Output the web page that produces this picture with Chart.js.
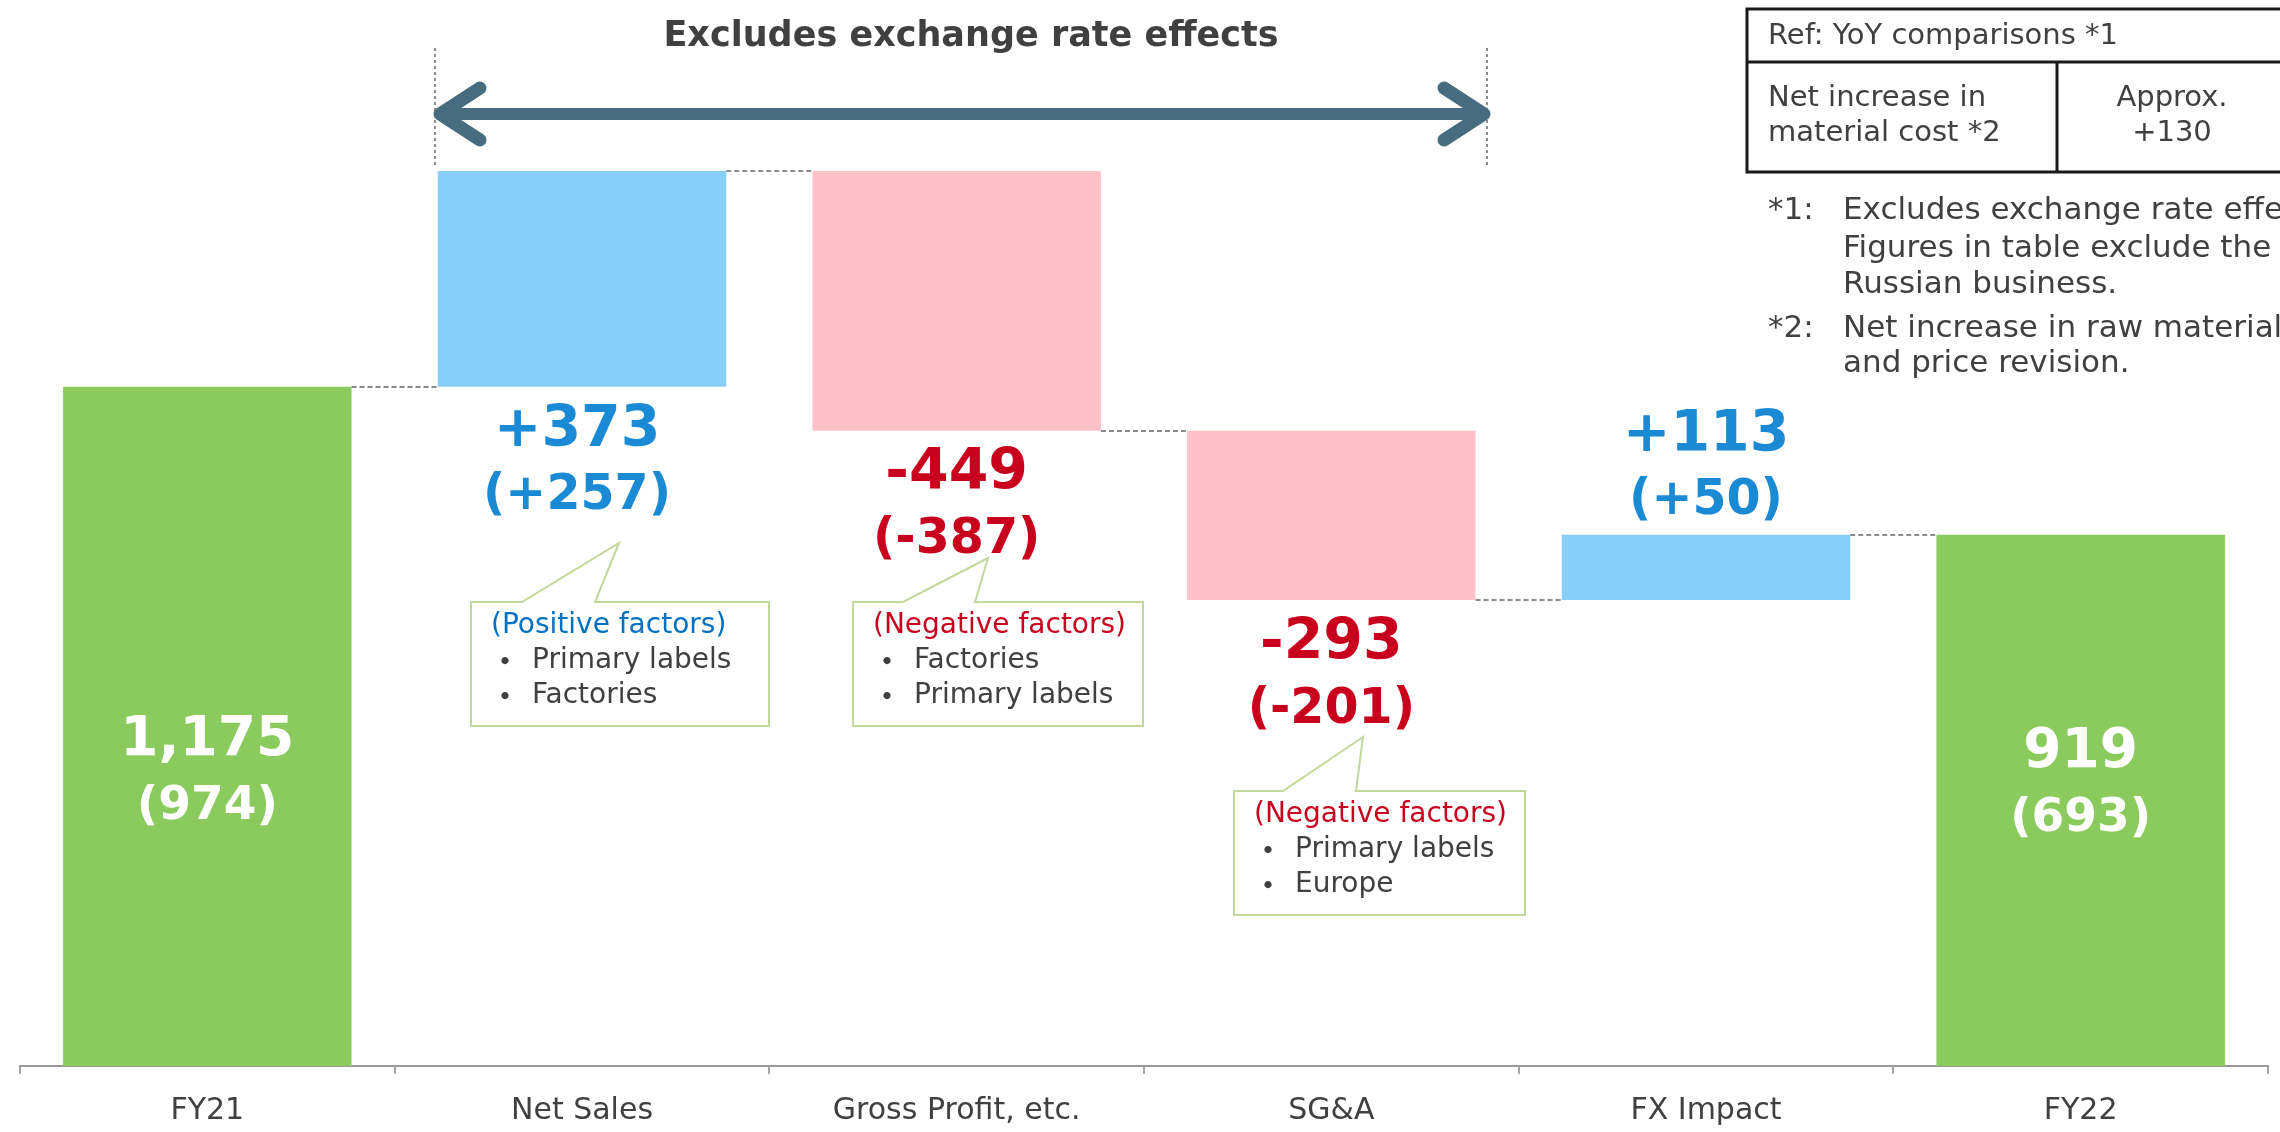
<!DOCTYPE html>
<html>
<head>
<meta charset="utf-8">
<script src="https://cdn.jsdelivr.net/npm/chart.js@4/dist/chart.umd.min.js"></script>
<style>
  html, body { margin: 0; padding: 0; background: #fff; }
  canvas { display: block; }
</style>
</head>
<body>
<canvas id="bridge" width="2280" height="1132"></canvas>
<script>
// operating income bridge, FY21 -> FY22
const categories = ["FY21", "Net Sales", "Gross Profit, etc.", "SG&A", "FX Impact", "FY22"];
const changes = [1175, 373, -449, -293, 113, 919];
const changesExFx = [974, 257, -387, -201, 50, 693]; // figures in brackets
const isTotal = [true, false, false, false, false, true];

const tableRows = [["Net increase in", "material cost *2"], ["Approx.", "+130"]];
const notes = [
  ["*1:", "Excludes exchange rate effects."],
  ["", "Figures in table exclude the"],
  ["", "Russian business."],
  ["*2:", "Net increase in raw material costs"],
  ["", "and price revision."]
];
const callouts = [
  { head: "(Positive factors)", items: ["Primary labels", "Factories"] },
  { head: "(Negative factors)", items: ["Factories", "Primary labels"] },
  { head: "(Negative factors)", items: ["Primary labels", "Europe"] }
];

// floating ranges for the waterfall
let running = 0;
const ranges = changes.map((v, i) => {
  if (isTotal[i]) { running = v; return [0, v]; }
  const r = [running, running + v];
  running += v;
  return r;
});

const GREEN = "#8bcb5d", BLUE = "#87cefa", PINK = "#ffc0c8";
const TXT = "#404040", POS = "#1b8ad4", NEG = "#c8001e";
const FONT = '"DejaVu Sans", Verdana, sans-serif';
// where the two value lines sit, relative to the bar end they hang from
const labelPlace = ["inside", "below", "below", "below", "above", "inside"];
const labelShift = [-325, 44, 44, 44, -99, -313];

const fmt = (v, total) => total ? v.toLocaleString("en-US") : (v > 0 ? "+" + v : String(v));

const overlay = {
  id: "overlay",
  afterDatasetsDraw(chart) {
    const ctx = chart.ctx;
    const bars = chart.getDatasetMeta(0).data;
    const y = chart.scales.y;
    ctx.save();

    // dashed connectors between bars
    ctx.strokeStyle = "#8c8c8c";
    ctx.lineWidth = 2;
    ctx.setLineDash([5, 3]);
    for (let i = 0; i < bars.length - 1; i++) {
      const py = Math.round(y.getPixelForValue(ranges[i][1]));
      ctx.beginPath();
      ctx.moveTo(bars[i].x + bars[i].width / 2, py);
      ctx.lineTo(bars[i + 1].x - bars[i + 1].width / 2, py);
      ctx.stroke();
    }
    ctx.setLineDash([]);

    // value labels
    ctx.textAlign = "center";
    ctx.textBaseline = "middle";
    bars.forEach((b, i) => {
      const top = Math.min(b.y, b.base), bottom = Math.max(b.y, b.base);
      const anchor = labelPlace[i] === "above" ? top : bottom;
      const y1 = anchor + labelShift[i], y2 = y1 + 66;
      let big = 57, small = 49;
      if (isTotal[i]) { ctx.fillStyle = "#fff"; big = 55; small = 47; }
      else ctx.fillStyle = changes[i] > 0 ? POS : NEG;
      const lx = b.x - (i === 1 ? 5 : 0);
      ctx.font = "bold " + big + "px " + FONT;
      ctx.fillText(fmt(changes[i], isTotal[i]), lx, y1);
      ctx.font = "bold " + small + "px " + FONT;
      ctx.fillText("(" + fmt(changesExFx[i], isTotal[i]) + ")", lx, y2);
    });

    ctx.restore();
  },
  afterDraw(chart) {
    const ctx = chart.ctx;
    ctx.save();

    // heading + double arrow
    ctx.fillStyle = TXT;
    ctx.font = "bold 35px " + FONT;
    ctx.textAlign = "center";
    ctx.textBaseline = "middle";
    ctx.fillText("Excludes exchange rate effects", 971, 37);

    ctx.strokeStyle = "#8c8c8c";
    ctx.lineWidth = 2;
    ctx.setLineDash([3, 3]);
    [435, 1487].forEach(x => {
      ctx.beginPath(); ctx.moveTo(x, 48); ctx.lineTo(x, 167); ctx.stroke();
    });
    ctx.setLineDash([]);

    ctx.strokeStyle = "#476c7f";
    ctx.lineWidth = 12;
    ctx.lineCap = "round";
    ctx.lineJoin = "round";
    ctx.beginPath(); ctx.moveTo(444, 114); ctx.lineTo(1481, 114); ctx.stroke();
    ctx.lineWidth = 13;
    ctx.beginPath();
    ctx.moveTo(480, 88); ctx.lineTo(440, 114); ctx.lineTo(480, 140);
    ctx.moveTo(1444, 88); ctx.lineTo(1484, 114); ctx.lineTo(1444, 140);
    ctx.stroke();

    // callout boxes
    const boxes = [
      { x: 471, y: 602, w: 298, h: 124, p: [522, 595, 619, 543], hc: "#0070c0" },
      { x: 853, y: 602, w: 290, h: 124, p: [903, 975, 988, 558], hc: NEG },
      { x: 1234, y: 791, w: 291, h: 124, p: [1283, 1356, 1363, 737], hc: NEG }
    ];
    ctx.lineCap = "butt";
    ctx.lineJoin = "miter";
    boxes.forEach((bx, k) => {
      const [a, b, tx, ty] = bx.p;
      ctx.beginPath();
      ctx.moveTo(bx.x, bx.y);
      ctx.lineTo(a, bx.y);
      ctx.lineTo(tx, ty);
      ctx.lineTo(b, bx.y);
      ctx.lineTo(bx.x + bx.w, bx.y);
      ctx.lineTo(bx.x + bx.w, bx.y + bx.h);
      ctx.lineTo(bx.x, bx.y + bx.h);
      ctx.closePath();
      ctx.fillStyle = "#fff";
      ctx.fill();
      ctx.strokeStyle = "#c4d79b";
      ctx.lineWidth = 2;
      ctx.stroke();

      const c = callouts[k];
      ctx.font = "28px " + FONT;
      ctx.textAlign = "left";
      ctx.fillStyle = bx.hc;
      ctx.fillText(c.head, bx.x + 20, bx.y + 24);
      ctx.fillStyle = TXT;
      c.items.forEach((it, j) => {
        const ly = bx.y + 59 + j * 35;
        ctx.textAlign = "center";
        ctx.font = '34px "Noto Sans CJK JP", sans-serif';
        ctx.fillText("・", bx.x + 34, ly);
        ctx.textAlign = "left";
        ctx.font = "28px " + FONT;
        ctx.fillText(it, bx.x + 61, ly);
      });
    });

    // reference table
    ctx.strokeStyle = "#1a1a1a";
    ctx.lineWidth = 3;
    ctx.strokeRect(1747, 9, 700, 163);
    ctx.beginPath();
    ctx.moveTo(1747, 62); ctx.lineTo(2290, 62);
    ctx.moveTo(2057, 62); ctx.lineTo(2057, 172);
    ctx.stroke();
    ctx.fillStyle = TXT;
    ctx.font = "29px " + FONT;
    ctx.textAlign = "left";
    ctx.fillText("Ref: YoY comparisons *1", 1768, 36);
    ctx.fillText(tableRows[0][0], 1768, 98);
    ctx.fillText(tableRows[0][1], 1768, 133);
    ctx.textAlign = "center";
    ctx.fillText(tableRows[1][0], 2172, 98);
    ctx.fillText(tableRows[1][1], 2172, 133);

    // footnotes
    ctx.font = "31px " + FONT;
    ctx.textAlign = "left";
    const noteY = [211, 249, 285, 329, 364];
    notes.forEach((n, i) => {
      if (n[0]) ctx.fillText(n[0], 1768, noteY[i]);
      ctx.fillText(n[1], 1843, noteY[i]);
    });

    ctx.restore();
  }
};

new Chart(document.getElementById("bridge"), {
  type: "bar",
  data: {
    labels: categories,
    datasets: [{
      data: ranges,
      backgroundColor: changes.map((v, i) => isTotal[i] ? GREEN : (v > 0 ? BLUE : PINK)),
      borderWidth: 0,
      barPercentage: 0.77,
      categoryPercentage: 1
    }]
  },
  options: {
    responsive: false,
    devicePixelRatio: 1,
    animation: false,
    layout: { padding: { left: 20, right: 12, top: 0, bottom: 0 } },
    plugins: { legend: { display: false }, tooltip: { enabled: false } },
    scales: {
      x: {
        afterFit(scale) { scale.height = 66; },
        grid: { drawOnChartArea: false, drawTicks: true, tickLength: 8, color: "#a6a6a6", lineWidth: 2, offset: true },
        border: { display: true, color: "#9a9a9a", width: 2 },
        ticks: { color: TXT, font: { family: FONT, size: 30 }, padding: 19, maxRotation: 0 }
      },
      y: { display: false, min: 0, max: 1844 }
    }
  },
  plugins: [overlay]
});
</script>
</body>
</html>
